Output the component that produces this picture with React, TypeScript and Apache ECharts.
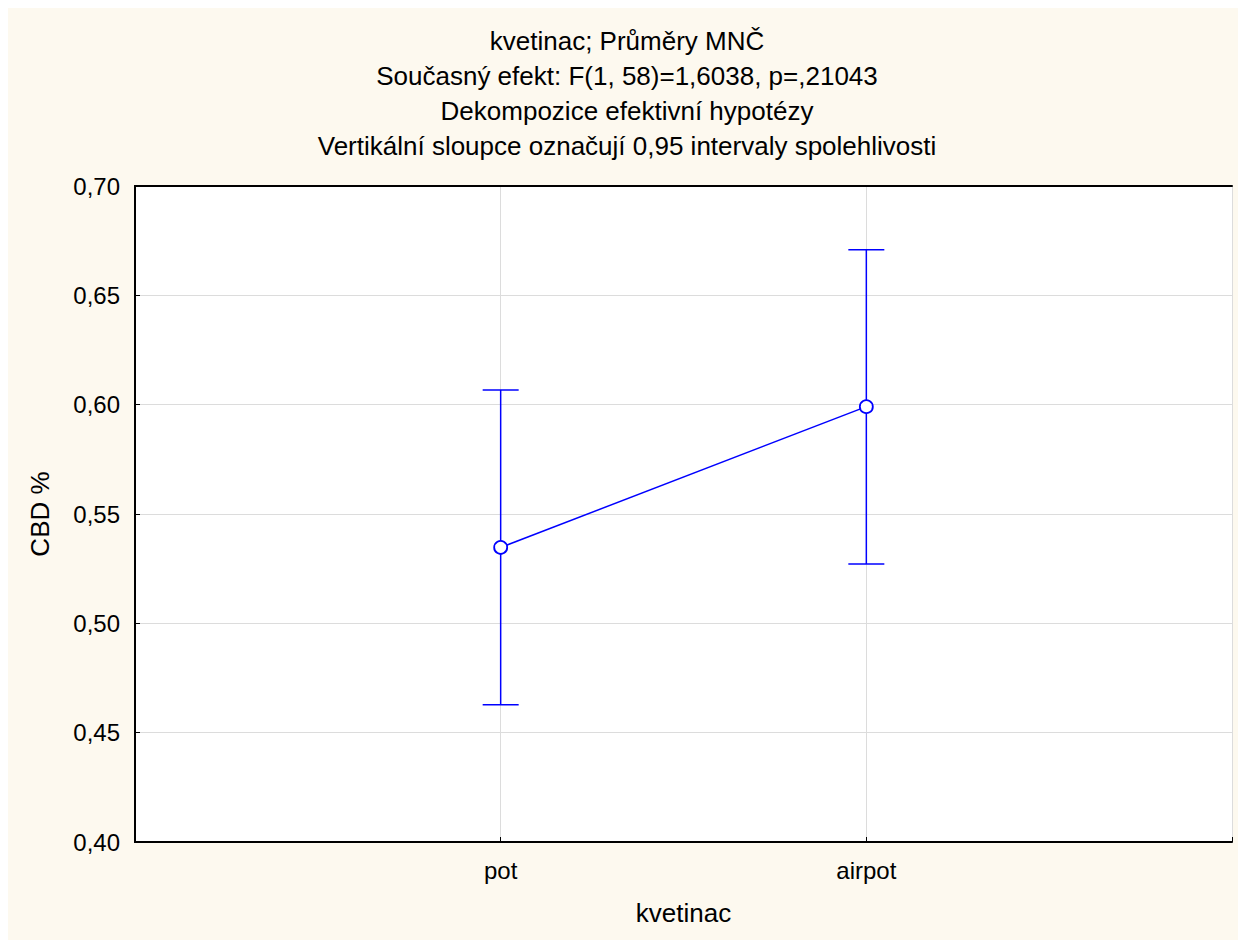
import React, { useEffect, useRef } from "react";
import * as echarts from "echarts";

const titleLines = [
  "kvetinac; Průměry MNČ",
  "Současný efekt: F(1, 58)=1,6038, p=,21043",
  "Dekompozice efektivní hypotézy",
  "Vertikální sloupce označují 0,95 intervaly spolehlivosti",
];
const categories = ["pot", "airpot"];
const means = [0.5347, 0.5991];
const lower = [0.4628, 0.5271];
const upper = [0.6067, 0.6709];
const yTicks = [0.4, 0.45, 0.5, 0.55, 0.6, 0.65, 0.7];
const xName = "kvetinac";
const yName = "CBD %";

const FONT = "'Liberation Sans', Arial, sans-serif";
const BLUE = "#0000ff";

export default function App() {
  const ref = useRef<HTMLDivElement>(null);
  useEffect(() => {
    if (!ref.current) return;
    const chart = echarts.init(ref.current, undefined, { renderer: "svg" });
    const lineData = means.map((m, i) => [i + 1, m]);
    const errData = categories.map((_, i) => [i + 1, lower[i], upper[i]]);
    chart.setOption({
      animation: false,
      backgroundColor: "#fdf9ef",
      textStyle: { fontFamily: FONT },
      title: {
        text: titleLines.join("\n"),
        left: "center",
        top: 10,
        textStyle: {
          fontFamily: FONT,
          fontSize: 26,
          fontWeight: "normal",
          color: "#000",
          lineHeight: 35,
        },
      },
      grid: {
        left: 127,
        top: 178,
        right: 14,
        bottom: 98,
        show: true,
        backgroundColor: "#ffffff",
        borderWidth: 0,
      },
      xAxis: [
        {
          type: "value",
          min: 0,
          max: 3,
          interval: 1,
          name: xName,
          nameLocation: "middle",
          nameGap: 58,
          nameTextStyle: { fontFamily: FONT, fontSize: 26, color: "#000" },
          axisLine: { show: true, lineStyle: { color: "#000", width: 2 } },
          axisTick: { show: true, inside: true, length: 5, lineStyle: { color: "#000" } },
          axisLabel: {
            fontFamily: FONT,
            fontSize: 24,
            color: "#000",
            margin: 16,
            formatter: (v: number) => (v >= 1 && v <= categories.length ? categories[v - 1] : ""),
          },
          splitLine: { show: true, lineStyle: { color: "#dcdcdc", width: 1 } },
        },
        {
          type: "value",
          position: "top",
          min: 0,
          max: 3,
          axisLine: { show: true, lineStyle: { color: "#000", width: 2 } },
          axisTick: { show: false },
          axisLabel: { show: false },
          splitLine: { show: false },
        },
      ],
      yAxis: [
        {
          type: "value",
          min: yTicks[0],
          max: yTicks[yTicks.length - 1],
          interval: 0.05,
          name: yName,
          nameLocation: "middle",
          nameGap: 82,
          nameTextStyle: { fontFamily: FONT, fontSize: 26, color: "#000" },
          axisLine: { show: true, lineStyle: { color: "#000", width: 2 } },
          axisTick: { show: true, inside: true, length: 5, lineStyle: { color: "#000" } },
          axisLabel: {
            fontFamily: FONT,
            fontSize: 24,
            color: "#000",
            margin: 15,
            formatter: (v: number) => v.toFixed(2).replace(".", ","),
          },
          splitLine: { show: true, lineStyle: { color: "#dcdcdc", width: 1 } },
        },
        {
          type: "value",
          position: "right",
          min: yTicks[0],
          max: yTicks[yTicks.length - 1],
          axisLine: { show: true, lineStyle: { color: "#000", width: 2 } },
          axisTick: { show: false },
          axisLabel: { show: false },
          splitLine: { show: false },
        },
      ],
      series: [
        {
          type: "custom",
          xAxisIndex: 0,
          yAxisIndex: 0,
          data: errData,
          z: 3,
          renderItem: (params: any, api: any) => {
            const x = api.value(0);
            const lo = api.coord([x, api.value(1)]);
            const hi = api.coord([x, api.value(2)]);
            const hw = 18;
            const style = { stroke: BLUE, lineWidth: 1.5 };
            return {
              type: "group",
              children: [
                { type: "line", shape: { x1: lo[0], y1: lo[1], x2: hi[0], y2: hi[1] }, style },
                { type: "line", shape: { x1: hi[0] - hw, y1: hi[1], x2: hi[0] + hw, y2: hi[1] }, style },
                { type: "line", shape: { x1: lo[0] - hw, y1: lo[1], x2: lo[0] + hw, y2: lo[1] }, style },
              ],
            };
          },
        },
        {
          type: "line",
          xAxisIndex: 0,
          yAxisIndex: 0,
          data: lineData,
          z: 4,
          symbol: "circle",
          symbolSize: 13,
          showSymbol: true,
          itemStyle: { color: "#ffffff", borderColor: BLUE, borderWidth: 1.8 },
          lineStyle: { color: BLUE, width: 1.5 },
        },
      ],
    });
    return () => chart.dispose();
  }, []);
  return <div ref={ref} style={{ width: 1238, height: 932 }} />;
}
